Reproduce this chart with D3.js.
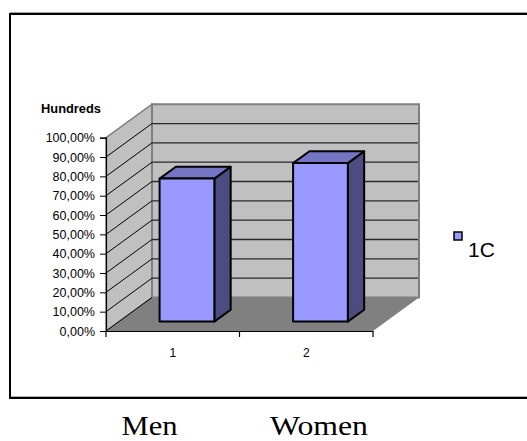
<!DOCTYPE html>
<html>
<head>
<meta charset="utf-8">
<script src="https://cdn.jsdelivr.net/npm/d3@7"></script>
<style>
  html, body { margin: 0; padding: 0; background: #fff; }
  svg { display: block; }
</style>
</head>
<body>
<svg id="chart" width="527" height="441"></svg>
<script>
// Chart data
const categories = ["1", "2"];
const seriesName = "1C";
const seriesValues = [0.74, 0.82];
const groupLabels = ["Men", "Women"];
const yTicks = [0, 0.1, 0.2, 0.3, 0.4, 0.5, 0.6, 0.7, 0.8, 0.9, 1.0];
const yAxisTitle = "Hundreds";

const svg = d3.select("#chart");

// Outer frame (open on the right side)
svg.append("line").attr("x1", 10).attr("x2", 527).attr("y1", 12.5).attr("y2", 12.5)
  .attr("stroke", "#a0a0a0").attr("stroke-width", 1);
svg.append("line").attr("x1", 10).attr("x2", 527).attr("y1", 396.5).attr("y2", 396.5)
  .attr("stroke", "#b0b0b0").attr("stroke-width", 1);
svg.append("rect").attr("x", 10).attr("y", 14).attr("width", 600).attr("height", 384)
  .attr("fill", "none").attr("stroke", "#000").attr("stroke-width", 2);

// 3D projection: category position along x, value along y, depth fraction z
const depthDX = 46, depthDY = 33.5;
const xScale = d3.scaleLinear().domain([0, categories.length]).range([106, 373]);
const yScale = d3.scaleLinear().domain([0, 1]).range([331, 137.7]);
const P = (x, v, z) => [xScale(x) + z * depthDX, yScale(v) - z * depthDY];
const poly = pts => "M" + pts.map(p => p.join(",")).join("L") + "Z";

const g = svg.append("g");

// Floor
g.append("path")
  .attr("d", poly([P(0, 0, 0), P(2, 0, 0), P(2, 0, 1), P(0, 0, 1)]))
  .attr("fill", "#808080");

// Left wall
g.append("path")
  .attr("d", poly([P(0, 0, 0), P(0, 1, 0), P(0, 1, 1), P(0, 0, 1)]))
  .attr("fill", "#c0c0c0").attr("stroke", "#808080").attr("stroke-width", 1.5);

// Back wall
g.append("path")
  .attr("d", poly([P(0, 0, 1), P(0, 1, 1), P(2, 1, 1), P(2, 0, 1)]))
  .attr("fill", "#c0c0c0").attr("stroke", "#808080").attr("stroke-width", 2);

// Gridlines on back wall and left wall
yTicks.slice(1, -1).forEach(v => {
  const a = P(0, v, 1), b = P(2, v, 1);
  g.append("line").attr("x1", a[0]).attr("y1", a[1]).attr("x2", b[0] - 1).attr("y2", b[1])
    .attr("stroke", "#2a2a2a").attr("stroke-width", 1.3);
});
yTicks.slice(0, -1).forEach(v => {
  const a = P(0, v, 0), b = P(0, v, 1);
  g.append("line").attr("x1", a[0]).attr("y1", a[1]).attr("x2", b[0]).attr("y2", b[1])
    .attr("stroke", "#000").attr("stroke-width", 1);
});

// Bars
const zFront = 0.28, zBack = 0.635, barW = 0.41;
const barColors = { front: "#9999ff", top: "#7575c4", side: "#4c4c80" };
seriesValues.forEach((val, i) => {
  const x0 = i + 0.5 - barW / 2 + 0.01, x1 = i + 0.5 + barW / 2 + 0.01;
  const bar = g.append("g").attr("stroke", "#000").attr("stroke-width", 2)
    .attr("stroke-linejoin", "round");
  bar.append("path")
    .attr("d", poly([P(x1, 0, zFront), P(x1, val, zFront), P(x1, val, zBack), P(x1, 0, zBack)]))
    .attr("fill", barColors.side);
  bar.append("path")
    .attr("d", poly([P(x0, val, zFront), P(x1, val, zFront), P(x1, val, zBack), P(x0, val, zBack)]))
    .attr("fill", barColors.top);
  bar.append("path")
    .attr("d", poly([P(x0, 0, zFront), P(x1, 0, zFront), P(x1, val, zFront), P(x0, val, zFront)]))
    .attr("fill", barColors.front);
});

// Value axis
const yAxis = d3.axisLeft(yScale).tickValues(yTicks).tickSize(6).tickPadding(5)
  .tickFormat(d => d3.format(".2f")(d * 100).replace(".", ",") + "%");
svg.append("g").attr("transform", `translate(${xScale(0)},0)`).call(yAxis)
  .call(s => s.select(".domain").attr("stroke", "#000").attr("stroke-width", 1.2))
  .call(s => s.selectAll(".tick line").attr("stroke", "#000"))
  .call(s => s.selectAll(".tick text").attr("font-family", "Arial, 'Liberation Sans', sans-serif")
    .attr("font-size", 12.5).attr("fill", "#000"));

// Category axis
const xBand = d3.scaleBand().domain(categories).range([xScale(0), xScale(2)]);
const xAxis = d3.axisBottom(xBand).tickSize(0).tickPadding(17);
const xg = svg.append("g").attr("transform", `translate(0,${yScale(0)})`).call(xAxis);
xg.select(".domain").attr("stroke", "#000").attr("stroke-width", 1.2);
xg.selectAll(".tick text").attr("font-family", "Arial, 'Liberation Sans', sans-serif")
  .attr("font-size", 12).attr("fill", "#000");
[0, 1, 2].forEach(t => {
  xg.append("line").attr("x1", xScale(t)).attr("x2", xScale(t)).attr("y1", 0).attr("y2", 6)
    .attr("stroke", "#000").attr("stroke-width", 1.2);
});

// Axis title
svg.append("text").attr("x", 41).attr("y", 112.5)
  .attr("font-family", "Arial, 'Liberation Sans', sans-serif").attr("font-weight", "bold")
  .attr("font-size", 12).attr("textLength", 60).attr("lengthAdjust", "spacingAndGlyphs")
  .text(yAxisTitle);

// Legend
svg.append("rect").attr("x", 454).attr("y", 232).attr("width", 8).attr("height", 8)
  .attr("fill", barColors.front).attr("stroke", "#000").attr("stroke-width", 1.5);
svg.append("text").attr("x", 468).attr("y", 256.5)
  .attr("font-family", "Arial, 'Liberation Sans', sans-serif").attr("font-size", 21)
  .text(seriesName);

// Group labels under the frame
const labelX = [121.5, 270];
const labelW = [56, 98];
groupLabels.forEach((t, i) => {
  svg.append("text").attr("x", labelX[i]).attr("y", 435)
    .attr("font-family", "'Times New Roman', 'Liberation Serif', serif").attr("font-size", 27)
    .attr("textLength", labelW[i]).attr("lengthAdjust", "spacingAndGlyphs")
    .text(t);
});
</script>
</body>
</html>
